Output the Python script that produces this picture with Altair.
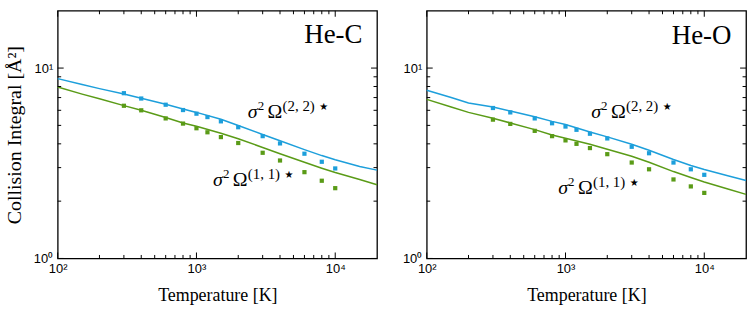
import altair as alt
import pandas as pd

# ---------------- data ----------------
T_line = [100, 150, 200, 300, 400, 600, 800, 1000, 1500, 2000, 3000, 4000,
          6000, 8000, 10000, 15000, 20000]
heC_o22_line = [8.8, 8.2, 7.8, 7.3, 6.95, 6.45, 6.1, 5.85, 5.38, 4.99, 4.48, 4.15,
                3.73, 3.47, 3.3, 3.04, 2.91]
heC_o11_line = [7.95, 7.3, 6.9, 6.35, 6.0, 5.5, 5.15, 4.95, 4.55, 4.25, 3.83, 3.55,
                3.2, 2.98, 2.83, 2.6, 2.44]
heO_o22_line = [7.65, 7.0, 6.55, 6.25, 5.95, 5.55, 5.25, 5.05, 4.62, 4.35, 3.98, 3.7,
                3.31, 3.08, 2.93, 2.71, 2.57]
heO_o11_line = [6.85, 6.25, 5.85, 5.45, 5.15, 4.75, 4.45, 4.28, 3.98, 3.75, 3.44, 3.2,
                2.86, 2.66, 2.52, 2.31, 2.17]

T_pts = [300, 400, 600, 800, 1000, 1200, 1500, 2000, 3000, 4000, 6000, 8000, 10000]
heC_o22_pts = [7.38, 6.92, 6.42, 6.02, 5.76, 5.53, 5.25, 4.89, 4.39, 4.02, 3.55, 3.22, 2.97]
heC_o11_pts = [6.34, 6.0, 5.44, 5.11, 4.83, 4.60, 4.34, 4.04, 3.59, 3.27, 2.84, 2.56, 2.34]
heO_o22_pts = [6.17, 5.85, 5.44, 5.13, 4.93, 4.74, 4.52, 4.27, 3.86, 3.57, 3.19, 2.94, 2.75]
heO_o11_pts = [5.36, 5.09, 4.68, 4.39, 4.17, 4.00, 3.80, 3.53, 3.19, 2.94, 2.60, 2.39, 2.21]

x_major = [100, 1000, 10000]
x_minor = [200, 300, 400, 500, 600, 700, 800, 900,
           2000, 3000, 4000, 5000, 6000, 7000, 8000, 9000]
y_major = [1, 10]
y_minor = [2, 3, 4, 5, 6, 7, 8, 9]

panel_names = ["He-C", "He-O"]
# label anchors (T, value) for the annotation texts
name_anchor = [(15700, 13.6), (15700, 13.4)]
o22_anchor = [(2340, 5.5), (1531, 5.5)]
o11_anchor = [(1315, 2.4), (885, 2.17)]
sup_texts = ["(2, 2)", "(1, 1)"]

# ---------------- style ----------------
W, H = 321, 249
BLUE = "#1d9fdb"
GREEN = "#5a9b17"
SERIF = "Liberation Serif"
SANS = "Liberation Sans"

xs = alt.Scale(type="log", domain=[100, 20000], nice=False)
ys = alt.Scale(type="log", domain=[1, 20], nice=False)

x_axis = alt.Axis(values=x_major,
                  labelExpr="datum.value == 100 ? '10²' : (datum.value == 1000 ? '10³' : '10⁴')",
                  ticks=False, domain=False, grid=False, labelFlush=False,
                  labelFont=SANS, labelFontSize=13, labelColor="black", labelPadding=4,
                  title="Temperature [K]", titleFont=SERIF, titleFontSize=18,
                  titleFontWeight="normal", titleColor="black", titlePadding=11)


def y_axis(with_title):
    kw = dict(values=y_major,
              labelExpr="datum.value == 1 ? '10⁰' : '10¹'",
              ticks=False, domain=False, grid=False,
              labelFont=SANS, labelFontSize=13, labelColor="black", labelPadding=5)
    if with_title:
        kw.update(title="Collision Integral [Å²]", titleFont=SERIF, titleFontSize=20,
                  titleFontWeight="normal", titleColor="black", titlePadding=9)
    else:
        kw.update(title=None)
    return alt.Axis(**kw)


def panel(idx, o22_line, o11_line, o22_pts, o11_pts):
    ya = y_axis(idx == 0)
    X = alt.X("T:Q", scale=xs, axis=x_axis)
    Y = alt.Y("v:Q", scale=ys, axis=ya)
    layers = []
    for vals, col in [(o22_line, BLUE), (o11_line, GREEN)]:
        df = pd.DataFrame({"T": T_line, "v": vals})
        layers.append(alt.Chart(df).mark_line(color=col, strokeWidth=1.5).encode(x=X, y=Y))
    for vals, col in [(o22_pts, BLUE), (o11_pts, GREEN)]:
        df = pd.DataFrame({"T": T_pts, "v": vals})
        layers.append(alt.Chart(df).mark_square(color=col, size=18, opacity=1).encode(x=X, y=Y))
    # inward ticks on all four sides
    for vals, ln in [(x_major, 6), (x_minor, 3.5)]:
        df = pd.DataFrame({"T": vals})
        layers.append(alt.Chart(df).mark_rule(color="black", strokeWidth=1).encode(
            x=X, y=alt.value(H), y2=alt.value(H - ln)))
        layers.append(alt.Chart(df).mark_rule(color="black", strokeWidth=1).encode(
            x=X, y=alt.value(0), y2=alt.value(ln)))
    for vals, ln in [(y_major, 6), (y_minor, 3.5)]:
        df = pd.DataFrame({"v": vals})
        layers.append(alt.Chart(df).mark_rule(color="black", strokeWidth=1).encode(
            y=Y, x=alt.value(0), x2=alt.value(ln)))
        layers.append(alt.Chart(df).mark_rule(color="black", strokeWidth=1).encode(
            y=Y, x=alt.value(W), x2=alt.value(W - ln)))
    # panel name
    t, v = name_anchor[idx]
    df = pd.DataFrame({"T": [t], "v": [v]})
    layers.append(alt.Chart(df).mark_text(text=panel_names[idx], font=SERIF, fontSize=27,
                                          align="right", baseline="alphabetic",
                                          color="black").encode(x=X, y=Y))
    # sigma^2 Omega labels
    for (t, v), sup in [(o22_anchor[idx], sup_texts[0]), (o11_anchor[idx], sup_texts[1])]:
        df = pd.DataFrame({"T": [t], "v": [v]})
        parts = [("σ", 0, 0, 20, "italic", SERIF), ("2", 10, -8, 13, "normal", SERIF),
                 ("Ω", 20, 0, 20, "normal", SERIF), (sup, 35, -7, 15, "normal", SERIF),
                 ("★", 72, -8, 10, "normal", "DejaVu Sans")]
        for txt, dx, dy, fs, st, fnt in parts:
            layers.append(alt.Chart(df).mark_text(text=txt, font=fnt, fontSize=fs,
                                                  fontStyle=st, align="left",
                                                  baseline="alphabetic", dx=dx, dy=dy,
                                                  color="black").encode(x=X, y=Y))
    return alt.layer(*layers).properties(width=W, height=H)


left = panel(0, heC_o22_line, heC_o11_line, heC_o22_pts, heC_o11_pts)
right = panel(1, heO_o22_line, heO_o11_line, heO_o22_pts, heO_o11_pts)

chart = alt.hconcat(left, right, spacing=50, bounds="flush").configure_view(
    stroke="black", strokeWidth=1.3
).properties(padding={"left": 3, "top": 8, "right": 5, "bottom": 5}, background="white")

chart.save("out.html", embed_options={"renderer": "svg", "actions": False})
